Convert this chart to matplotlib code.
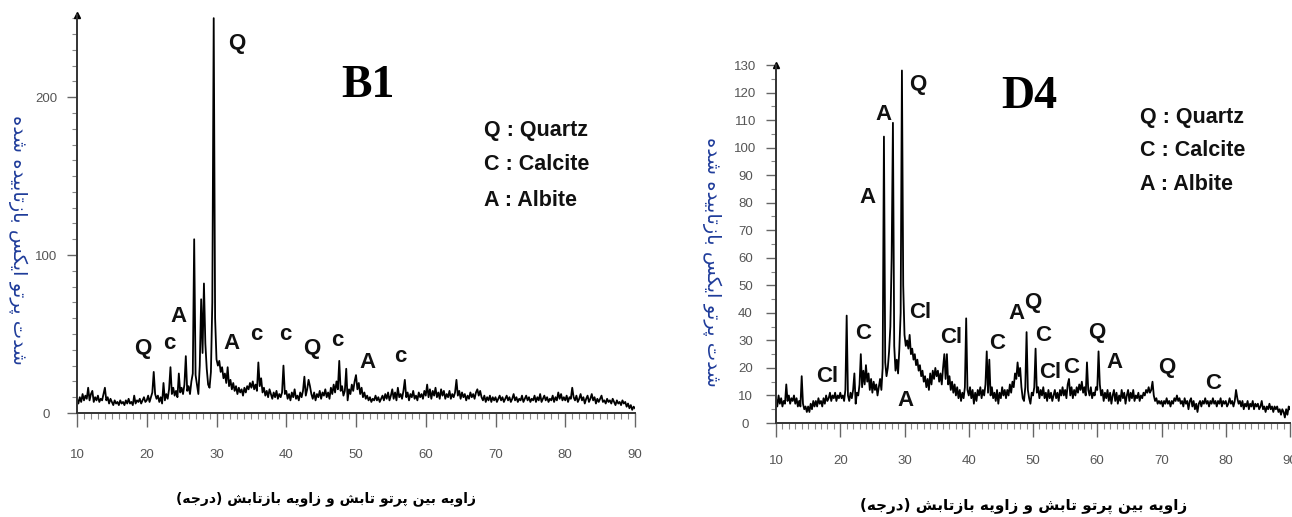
import numpy as np
import matplotlib
matplotlib.use("Agg")
import matplotlib.pyplot as plt
from matplotlib.ticker import MultipleLocator

# ---------------------------------------------------------------- data
two_theta = np.round(np.arange(10.0, 90.0001, 0.2), 1)

b1_counts = [
    9, 6, 10, 7, 12, 8, 11, 9, 16, 8, 12, 14, 7, 10, 8, 11, 7, 9, 8, 12, 16, 8, 10, 6, 9,
    7, 5, 8, 6, 7, 5, 8, 6, 7, 5, 8, 6, 9, 6, 7, 5, 11, 6, 8, 7, 9, 6, 8, 10, 7,
    8, 11, 7, 10, 13, 26, 12, 9, 11, 7, 10, 6, 19, 8, 12, 9, 15, 29, 12, 16, 11, 14, 10, 25, 13,
    16, 12, 18, 36, 14, 17, 12, 20, 25, 110, 24, 18, 12, 30, 72, 38, 82, 44, 28, 18, 16, 26, 70, 250, 60,
    34, 30, 33, 26, 29, 22, 25, 19, 29, 17, 21, 15, 19, 14, 17, 12, 16, 13, 15, 11, 16, 13, 17, 15, 19,
    16, 20, 15, 18, 14, 32, 17, 22, 13, 16, 11, 14, 10, 15, 12, 9, 13, 10, 14, 9, 12, 10, 13, 30, 12,
    14, 9, 12, 8, 13, 10, 15, 9, 11, 8, 13, 10, 14, 23, 11, 15, 21, 17, 12, 9, 13, 8, 12, 10, 14,
    9, 13, 11, 15, 10, 13, 9, 16, 12, 18, 13, 20, 15, 33, 14, 17, 11, 14, 28, 8, 15, 12, 18, 14, 20,
    24, 15, 19, 12, 16, 10, 13, 9, 11, 8, 10, 7, 9, 8, 11, 8, 10, 7, 9, 11, 8, 12, 9, 13, 8,
    11, 15, 9, 13, 8, 16, 10, 12, 9, 14, 21, 10, 13, 8, 12, 10, 14, 9, 11, 8, 13, 10, 12, 9, 14,
    11, 18, 10, 15, 9, 14, 11, 16, 10, 13, 9, 15, 11, 14, 9, 12, 10, 14, 9, 12, 10, 13, 21, 11, 14,
    9, 13, 10, 12, 8, 11, 9, 13, 10, 12, 9, 13, 15, 11, 14, 10, 8, 11, 7, 10, 8, 11, 7, 10, 8,
    10, 7, 9, 11, 8, 10, 7, 9, 11, 8, 10, 7, 9, 12, 8, 10, 7, 9, 8, 11, 7, 9, 11, 8, 10,
    7, 9, 8, 11, 7, 10, 8, 12, 7, 9, 11, 8, 10, 7, 9, 8, 11, 7, 10, 8, 13, 9, 12, 8, 10,
    8, 11, 7, 10, 9, 16, 10, 8, 11, 7, 9, 12, 8, 10, 6, 9, 11, 7, 9, 12, 8, 10, 6, 9, 7,
    9, 11, 7, 8, 6, 9, 7, 8, 6, 9, 7, 5, 8, 6, 7, 5, 8, 6, 7, 4, 6, 3, 5, 2, 4,
    3,
]

d4_counts = [
    9, 6, 10, 7, 9, 6, 8, 7, 14, 8, 10, 7, 9, 8, 10, 7, 9, 6, 8, 6, 17, 7, 5, 6, 4,
    6, 4, 7, 5, 8, 6, 8, 6, 9, 7, 8, 6, 9, 7, 10, 8, 9, 11, 8, 10, 9, 11, 8, 10, 9,
    11, 9, 10, 8, 12, 39, 10, 8, 11, 9, 12, 18, 7, 11, 10, 14, 25, 13, 19, 14, 21, 15, 18, 12, 16,
    11, 15, 12, 14, 10, 13, 16, 12, 20, 104, 22, 17, 20, 26, 35, 60, 109, 28, 19, 23, 18, 27, 40, 128, 50,
    32, 28, 30, 27, 32, 25, 27, 23, 25, 21, 23, 19, 21, 17, 19, 15, 17, 13, 16, 12, 18, 14, 19, 16, 20,
    17, 19, 15, 18, 14, 20, 25, 16, 25, 14, 17, 12, 15, 11, 14, 10, 13, 9, 12, 8, 11, 9, 13, 38, 12,
    10, 13, 9, 12, 7, 11, 8, 12, 10, 13, 9, 12, 10, 14, 26, 11, 23, 10, 13, 9, 11, 8, 12, 7, 11,
    9, 13, 10, 12, 9, 12, 10, 14, 11, 15, 13, 18, 16, 22, 17, 20, 13, 9, 8, 13, 33, 12, 9, 7, 11,
    10, 13, 27, 11, 13, 9, 12, 10, 13, 9, 11, 8, 12, 9, 11, 8, 10, 12, 9, 11, 8, 12, 10, 13, 10,
    12, 9, 14, 16, 10, 13, 9, 12, 10, 13, 11, 14, 12, 15, 11, 13, 10, 22, 12, 10, 13, 9, 11, 10, 13,
    12, 26, 14, 10, 12, 8, 11, 9, 12, 8, 11, 7, 10, 12, 8, 11, 7, 10, 8, 12, 9, 11, 7, 10, 12,
    8, 11, 9, 12, 8, 10, 9, 11, 8, 10, 9, 11, 10, 12, 11, 13, 11, 12, 15, 10, 8, 9, 7, 8, 7,
    8, 6, 8, 7, 9, 7, 8, 6, 8, 7, 9, 8, 10, 8, 9, 7, 8, 6, 9, 7, 8, 5, 8, 9, 6,
    8, 5, 7, 4, 7, 8, 6, 8, 7, 9, 7, 8, 6, 8, 7, 9, 7, 8, 6, 8, 7, 9, 6, 8, 7,
    8, 6, 7, 9, 7, 8, 6, 8, 12, 9, 7, 8, 6, 8, 5, 7, 6, 8, 5, 7, 6, 8, 5, 7, 6,
    7, 5, 6, 8, 5, 6, 4, 6, 5, 7, 5, 6, 4, 6, 5, 6, 4, 5, 3, 5, 4, 2, 5, 3, 6,
    5,
]

# phase labels: (symbol, 2-theta, intensity)
b1_phase_labels = [
    ("Q", 32.9, 234), ("Q", 19.4, 41), ("c", 23.3, 44), ("A", 24.6, 61),
    ("A", 32.1, 44), ("c", 35.7, 50), ("c", 39.9, 50), ("Q", 43.7, 41),
    ("c", 47.3, 46), ("A", 51.6, 32), ("c", 56.4, 36),
]
d4_phase_labels = [
    ("Q", 32.1, 123), ("A", 26.7, 112), ("A", 24.2, 82), ("Cl", 17.9, 17),
    ("C", 23.5, 32.5), ("Cl", 32.5, 40.3), ("A", 30.1, 8.3), ("Cl", 37.2, 30.9),
    ("C", 44.4, 29.0), ("A", 47.5, 39.6), ("Q", 50.0, 43.9), ("C", 51.5, 31.6),
    ("Cl", 52.6, 18.5), ("C", 56.0, 20.3), ("Q", 59.9, 32.7), ("A", 62.7, 22.1),
    ("Q", 70.8, 20.3), ("C", 78.0, 14.2),
]

legend_lines = ["Q : Quartz", "C : Calcite", "A : Albite"]
panel_names = ["B1", "D4"]
x_title = "زاویه بین پرتو تابش و زاویه بازتابش (درجه)"
y_title = "شدت پرتو ایکس بازتابیده شده"

# ------------------------------------------------ Persian text shaping
# isolated, final, initial, medial presentation forms
FORMS = {
    "ا": ("\uFE8D", "\uFE8E", None, None),
    "ب": ("\uFE8F", "\uFE90", "\uFE91", "\uFE92"),
    "پ": ("\uFB56", "\uFB57", "\uFB58", "\uFB59"),
    "ت": ("\uFE95", "\uFE96", "\uFE97", "\uFE98"),
    "ج": ("\uFE9D", "\uFE9E", "\uFE9F", "\uFEA0"),
    "د": ("\uFEA9", "\uFEAA", None, None),
    "ر": ("\uFEAD", "\uFEAE", None, None),
    "ز": ("\uFEAF", "\uFEB0", None, None),
    "س": ("\uFEB1", "\uFEB2", "\uFEB3", "\uFEB4"),
    "ش": ("\uFEB5", "\uFEB6", "\uFEB7", "\uFEB8"),
    "ک": ("\uFB8E", "\uFB8F", "\uFB90", "\uFB91"),
    "ن": ("\uFEE5", "\uFEE6", "\uFEE7", "\uFEE8"),
    "ه": ("\uFEE9", "\uFEEA", "\uFEEB", "\uFEEC"),
    "و": ("\uFEED", "\uFEEE", None, None),
    "ی": ("\uFBFC", "\uFBFD", "\uFBFE", "\uFBFF"),
}


def shape_rtl(text):
    out = []
    for i, ch in enumerate(text):
        f = FORMS.get(ch)
        if f is None:
            out.append(ch)
            continue
        prev = text[i - 1] if i > 0 else ""
        nxt = text[i + 1] if i + 1 < len(text) else ""
        join_prev = prev in FORMS and FORMS[prev][2] is not None
        join_next = nxt in FORMS and f[2] is not None
        if join_prev and join_next:
            out.append(f[3])
        elif join_prev:
            out.append(f[1])
        elif join_next:
            out.append(f[2])
        else:
            out.append(f[0])
    mirror = {"(": ")", ")": "("}
    return "".join(mirror.get(c, c) for c in reversed(out))


# ---------------------------------------------------------------- figure
W, H = 1292, 517
fig = plt.figure(figsize=(W / 100, H / 100), dpi=100)

panels = [
    dict(rect=[77 / W, 104 / H, 558 / W, 398 / H], y=b1_counts, ymax=252,
         major=100, minor=10, labels=b1_phase_labels, name=panel_names[0],
         name_xy=(368 / W, 1 - 86 / H), leg_x=484 / W, leg_y=[130, 165, 200],
         xt_xy=(326 / W, 1 - 499 / H), xt_size=10,
         yt_xy=(18 / W, 1 - 240 / H), xpad=16),
    dict(rect=[776 / W, 94 / H, 514 / W, 358 / H], y=d4_counts, ymax=130,
         major=10, minor=5, labels=d4_phase_labels, name=panel_names[1],
         name_xy=(1029 / W, 1 - 97 / H), leg_x=1140 / W, leg_y=[118, 151, 185],
         xt_xy=(1024 / W, 1 - 506 / H), xt_size=11,
         yt_xy=(712 / W, 1 - 262 / H), xpad=13),
]

tick_color = "#555555"
for p in panels:
    ax = fig.add_axes(p["rect"])
    ax.plot(two_theta, p["y"], color="black", lw=1.3)
    ax.set_xlim(10, 90)
    ax.set_ylim(0, p["ymax"])
    for s in ("top", "right"):
        ax.spines[s].set_visible(False)
    for s in ("left", "bottom"):
        ax.spines[s].set_color("#333333")
        ax.spines[s].set_linewidth(1.4)
    ax.xaxis.set_major_locator(MultipleLocator(10))
    ax.xaxis.set_minor_locator(MultipleLocator(1))
    ax.yaxis.set_major_locator(MultipleLocator(p["major"]))
    ax.yaxis.set_minor_locator(MultipleLocator(p["minor"]))
    ax.tick_params(axis="x", which="major", direction="out", length=10,
                   width=1.0, color="#666666", pad=p["xpad"], labelsize=9.5,
                   labelcolor=tick_color)
    ax.tick_params(axis="x", which="minor", direction="out", length=4.5,
                   width=0.8, color="#888888")
    ax.tick_params(axis="y", which="major", direction="out", length=7,
                   width=1.0, color="#666666", pad=15, labelsize=9.5,
                   labelcolor=tick_color)
    ax.tick_params(axis="y", which="minor", direction="out", length=3.5,
                   width=0.8, color="#888888")
    for lab in ax.get_xticklabels() + ax.get_yticklabels():
        lab.set_family("Liberation Sans")
    for lab in ax.get_yticklabels():
        lab.set_horizontalalignment("center")
    # arrow head on the intensity axis
    ax.plot([0], [1], marker="^", ms=5, color="black",
            transform=ax.transAxes, clip_on=False)

    for sym, xv, yv in p["labels"]:
        ax.text(xv, yv, sym, ha="center", va="center", fontsize=16,
                fontweight="bold", family="Liberation Sans", color="#111111")

    fig.text(*p["name_xy"], p["name"], ha="center", va="center",
             fontsize=33, fontweight="bold", family="Liberation Serif")
    for line, yc in zip(legend_lines, p["leg_y"]):
        fig.text(p["leg_x"], 1 - yc / H, line, ha="left", va="center",
                 fontsize=15.5, fontweight="bold", family="Liberation Sans",
                 color="#111111")
    fig.text(*p["xt_xy"], shape_rtl(x_title), ha="center", va="center",
             fontsize=p["xt_size"], fontweight="bold", family="DejaVu Sans")
    fig.text(*p["yt_xy"], shape_rtl(y_title), ha="center", va="center",
             rotation=270, fontsize=14, family="DejaVu Sans",
             color="#1f3c9a")

fig.savefig("out.png", dpi=100)
